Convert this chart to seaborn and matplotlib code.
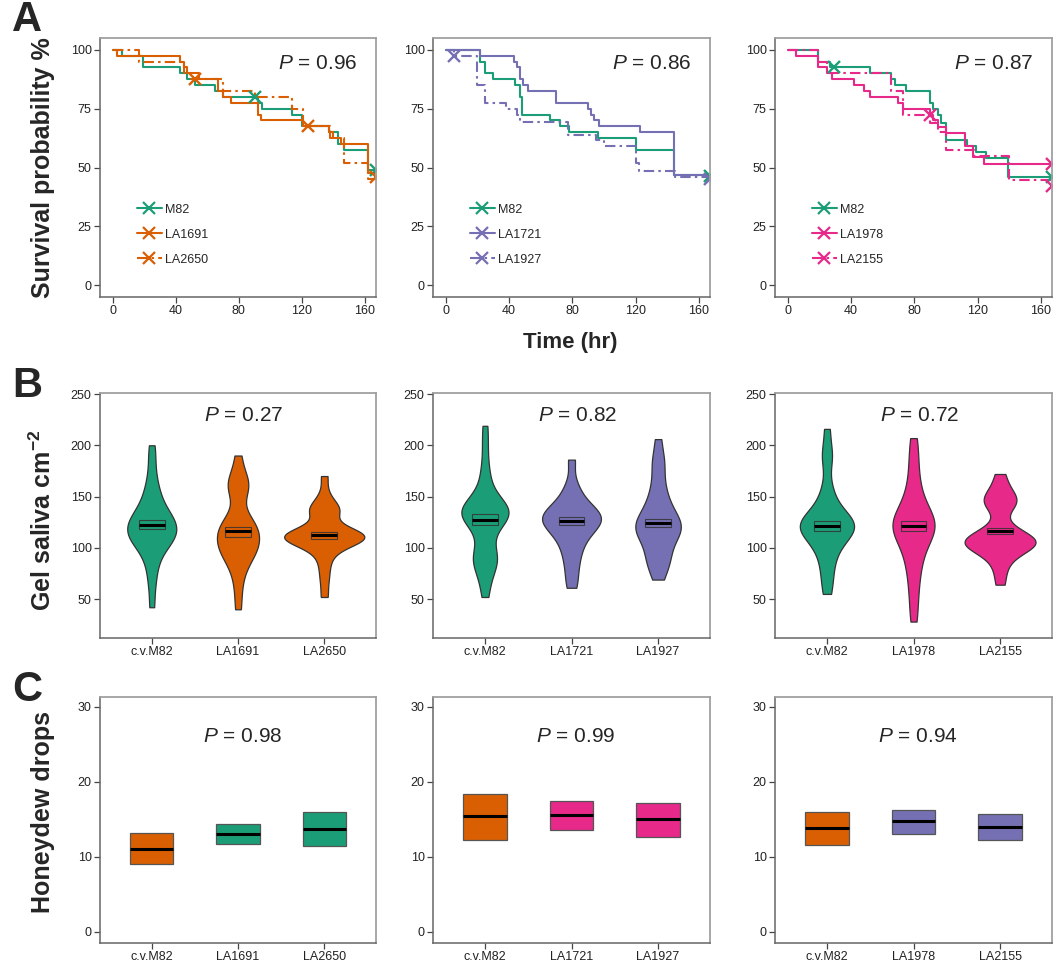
import numpy as np
import pandas as pd
import matplotlib
matplotlib.use("Agg")
import matplotlib.pyplot as plt
from matplotlib.lines import Line2D
import seaborn as sns

sns.set_style("white")
plt.rcParams["font.family"] = ["Liberation Sans", "DejaVu Sans"]
plt.rcParams["mathtext.fontset"] = "custom"
plt.rcParams["mathtext.rm"] = "Liberation Sans"
plt.rcParams["mathtext.it"] = "Liberation Sans:italic"
plt.rcParams["mathtext.bf"] = "Liberation Sans:bold"

GREEN, ORANGE, PURPLE, PINK = "#1b9e77", "#d95f02", "#7570b3", "#e7298a"

# ---- A: survival curves (time hr, survival %) ----
a1_m82_t = [0, 6, 19, 43, 47, 52, 65, 70, 92, 95, 114, 120, 137, 143, 147, 162, 167]
a1_m82_s = [100, 97.5, 92.5, 90, 87.5, 85, 82.5, 80, 77.5, 75, 72.5, 67.5, 65, 60, 57.5, 49, 49]
a1_la1691_t = [0, 3, 43, 45, 47, 55, 67, 70, 75, 92, 94, 121, 137, 140, 145, 162, 167]
a1_la1691_s = [100, 97.5, 95, 92.5, 90, 87.5, 82.5, 80, 77.5, 72.5, 70, 67.5, 65, 62.5, 60, 47.5, 47.5]
a1_la2650_t = [0, 17, 45, 50, 70, 90, 114, 121, 138, 147, 162, 167]
a1_la2650_s = [100, 95, 90, 87.5, 82.5, 80, 75, 67.5, 62.5, 52, 45, 45]

a2_m82_t = [0, 22, 25, 30, 44, 47, 48, 66, 72, 78, 96, 120, 144, 167]
a2_m82_s = [100, 95, 90, 87.5, 85, 80, 72.5, 70, 67.5, 65, 62.5, 57.5, 47, 47]
a2_la1721_t = [0, 22, 43, 45, 47, 49, 52, 70, 90, 92, 94, 97, 123, 144, 167]
a2_la1721_s = [100, 97.5, 95, 92.5, 87.5, 85, 82.5, 77.5, 75, 72.5, 70, 67.5, 65, 47, 47]
a2_la1927_t = [0, 5, 20, 25, 38, 45, 47, 77, 95, 100, 120, 122, 145, 167]
a2_la1927_s = [100, 97.5, 85, 77.5, 75, 72.5, 69.5, 64, 61.5, 59, 52, 48.5, 46, 46]

a3_m82_t = [0, 19, 27, 52, 65, 68, 75, 90, 92, 95, 97, 100, 113, 119, 125, 139, 167]
a3_m82_s = [100, 95, 92.5, 90, 87.5, 85, 82.5, 77.5, 75, 72.5, 69, 61.5, 59, 56.5, 54, 46, 46]
a3_la1978_t = [0, 5, 19, 25, 28, 42, 48, 52, 70, 73, 90, 92, 95, 100, 112, 117, 124, 167]
a3_la1978_s = [100, 97.5, 92.5, 90, 87.5, 85, 82.5, 80, 77.5, 75, 72.5, 70, 67, 64.5, 59, 54.5, 51.5, 51.5]
a3_la2155_t = [0, 19, 25, 65, 73, 90, 95, 100, 118, 140, 167]
a3_la2155_s = [100, 95, 90, 82.5, 72.5, 69, 65, 57.5, 54.8, 44.8, 44.8]

# censor marks
a1_cens = [(52, 87.5, ORANGE), (90, 80, GREEN), (124, 67.5, ORANGE), (167, 49, GREEN), (167, 46, ORANGE)]
a2_cens = [(5, 97.5, PURPLE), (167, 46.5, GREEN), (167, 45, PURPLE)]
a3_cens = [(29, 92.5, GREEN), (90, 72.5, PINK), (167, 51.3, PINK), (167, 46, GREEN), (167, 42, PINK)]

a_pvals = ["0.96", "0.86", "0.87"]

# ---- B: gel saliva per cm2 ----
b1_groups = ["c.v.M82", "LA1691", "LA2650"]
b1_m82 = [42, 62, 75, 85, 92, 98, 102, 105, 107, 109, 111, 113, 115, 117, 119, 121, 123,
          125, 127, 129, 131, 134, 138, 142, 147, 153, 160, 170, 185, 200]
b1_la1691 = [40, 60, 75, 85, 90, 94, 97, 100, 103, 106, 109, 112, 115, 118, 121, 124, 127,
             131, 155, 158, 161, 164, 172, 190]
b1_la2650 = [52, 68, 80, 90, 97, 102, 105, 107, 108, 109, 110, 110, 111, 111, 112, 113, 114,
             115, 117, 120, 133, 135, 137, 139, 142, 152, 170]
b2_groups = ["c.v.M82", "LA1721", "LA1927"]
b2_m82 = [52, 65, 75, 82, 86, 89, 91, 94, 98, 110, 118, 123, 126, 128, 130, 132, 134, 135,
          136, 137, 138, 140, 142, 145, 150, 158, 168, 180, 200, 219]
b2_la1721 = [61, 74, 86, 95, 103, 109, 114, 118, 121, 124, 126, 128, 130, 132, 134, 137, 140,
             145, 152, 162, 186]
b2_la1927 = [69, 78, 86, 89, 92, 100, 106, 110, 113, 116, 118, 120, 122, 124, 127, 130, 134,
             138, 144, 150, 158, 168, 183, 186, 206]
b3_groups = ["c.v.M82", "LA1978", "LA2155"]
b3_m82 = [55, 68, 80, 90, 98, 104, 109, 113, 116, 118, 120, 121, 122, 123, 125, 127, 130,
          134, 140, 150, 160, 188, 191, 216]
b3_la1978 = [28, 45, 60, 72, 82, 90, 97, 103, 108, 112, 115, 118, 120, 122, 124, 126, 129,
             132, 136, 141, 147, 155, 165, 178, 192, 207]
b3_la2155 = [64, 78, 88, 95, 99, 101, 103, 104, 105, 106, 107, 108, 110, 112, 116, 122, 140,
             143, 145, 148, 152, 160, 172]

b1_mean, b1_lo, b1_hi = [122, 116, 112], [118, 111, 109], [127, 120, 115]
b2_mean, b2_lo, b2_hi = [127, 126, 124], [122, 122, 120], [133, 130, 128]
b3_mean, b3_lo, b3_hi = [121, 121, 116], [116, 116, 113], [126, 126, 119]
b_pvals = ["0.27", "0.82", "0.72"]

# ---- C: honeydew drops ----
c1_mean, c1_lo, c1_hi = [11.1, 13.1, 13.7], [9.0, 11.7, 11.4], [13.2, 14.4, 16.0]
c2_mean, c2_lo, c2_hi = [15.4, 15.6, 15.0], [12.3, 13.6, 12.7], [18.4, 17.4, 17.2]
c3_mean, c3_lo, c3_hi = [13.8, 14.8, 14.0], [11.6, 13.05, 12.2], [16.0, 16.3, 15.7]
c_pvals = ["0.98", "0.99", "0.94"]

W, H = 1054, 964
fig = plt.figure(figsize=(W / 100, H / 100), dpi=100)
cols = [(100, 376), (433, 710), (775, 1052)]
rows = [(38, 297), (393, 638), (697, 943)]


def add_ax(col, row):
    x0, x1 = cols[col]
    y0, y1 = rows[row]
    return fig.add_axes([x0 / W, 1 - y1 / H, (x1 - x0) / W, (y1 - y0) / H])


def style(ax):
    for side in ["top", "right"]:
        ax.spines[side].set_color("#a0a0a0")
        ax.spines[side].set_linewidth(1.3)
        ax.spines[side].set_visible(True)
    for side in ["left", "bottom"]:
        ax.spines[side].set_color("#666666")
        ax.spines[side].set_linewidth(1.1)
        ax.spines[side].set_visible(True)
    ax.tick_params(bottom=True, left=True, top=False, right=False, direction="out",
                   length=4, width=0.9, color="#444444",
                   labelsize=9, labelcolor="#222222", pad=2)
    ax.set_xlabel("")
    ax.set_ylabel("")
    ax.grid(False)


dash = (0, (5, 2, 1.2, 2))
a_series = [
    [(a1_m82_t, a1_m82_s, GREEN, "-", "M82"), (a1_la1691_t, a1_la1691_s, ORANGE, "-", "LA1691"),
     (a1_la2650_t, a1_la2650_s, ORANGE, dash, "LA2650")],
    [(a2_m82_t, a2_m82_s, GREEN, "-", "M82"), (a2_la1721_t, a2_la1721_s, PURPLE, "-", "LA1721"),
     (a2_la1927_t, a2_la1927_s, PURPLE, dash, "LA1927")],
    [(a3_m82_t, a3_m82_s, GREEN, "-", "M82"), (a3_la1978_t, a3_la1978_s, PINK, "-", "LA1978"),
     (a3_la2155_t, a3_la2155_s, PINK, dash, "LA2155")],
]
a_cens = [a1_cens, a2_cens, a3_cens]

for i in range(3):
    ax = add_ax(i, 0)
    handles = []
    for t, s, c, ls, lab in a_series[i]:
        sns.lineplot(x=t, y=s, drawstyle="steps-post", color=c, linewidth=1.5,
                     linestyle=ls, estimator=None, sort=False, ax=ax)
        handles.append(Line2D([0], [0], color=c, lw=1.5, ls=ls, marker="x",
                              markersize=8, mew=1.6, label=lab))
    for x, y, c in a_cens[i]:
        ax.plot([x], [y], marker="x", color=c, markersize=9, mew=1.7, ls="none")
    ax.set_xlim(-8, 167)
    ax.set_ylim(-5, 105)
    ax.set_xticks([0, 40, 80, 120, 160])
    ax.set_yticks([0, 25, 50, 75, 100])
    style(ax)
    ax.text(130, 94, "$P$ = " + a_pvals[i], fontsize=15, ha="center", va="center")
    ax.legend(handles=handles, loc="upper left", bbox_to_anchor=(0.11, 0.385),
              frameon=False, fontsize=9, handlelength=2.0, handletextpad=0.3,
              labelspacing=1.05, borderpad=0, numpoints=1)

b_groups = [b1_groups, b2_groups, b3_groups]
b_data = [[b1_m82, b1_la1691, b1_la2650], [b2_m82, b2_la1721, b2_la1927],
          [b3_m82, b3_la1978, b3_la2155]]
b_stats = [(b1_mean, b1_lo, b1_hi), (b2_mean, b2_lo, b2_hi), (b3_mean, b3_lo, b3_hi)]
b_colors = [[GREEN, ORANGE, ORANGE], [GREEN, PURPLE, PURPLE], [GREEN, PINK, PINK]]
b_widths = [0.93, 0.68, 0.82]

for i in range(3):
    ax = add_ax(i, 1)
    df = pd.DataFrame({
        "group": np.repeat(b_groups[i], [len(v) for v in b_data[i]]),
        "value": np.concatenate(b_data[i]),
    })
    # common_norm -> equal-area violins, like ggplot's default scale
    sns.violinplot(data=df, x="group", y="value", hue="group", order=b_groups[i],
                   hue_order=b_groups[i], palette=b_colors[i], cut=0, inner=None,
                   linewidth=0.9, linecolor="#333333", saturation=1,
                   density_norm="area", common_norm=True, width=b_widths[i],
                   bw_adjust=0.65, legend=False, ax=ax)
    mean, lo, hi = b_stats[i]
    ax.bar(range(3), np.subtract(hi, lo), bottom=lo, width=0.3, color=b_colors[i],
           edgecolor="#333333", linewidth=0.8, alpha=0.85, zorder=3)
    ax.hlines(mean, np.arange(3) - 0.15, np.arange(3) + 0.15, color="black", lw=2.2, zorder=4)
    ax.set_xlim(-0.6, 2.6)
    ax.set_ylim(12, 251)
    ax.set_yticks([50, 100, 150, 200, 250])
    style(ax)
    ax.text(1.07, 229, "$P$ = " + b_pvals[i], fontsize=15, ha="center", va="center")

c_groups = b_groups
c_stats = [(c1_mean, c1_lo, c1_hi), (c2_mean, c2_lo, c2_hi), (c3_mean, c3_lo, c3_hi)]
c_colors = [[ORANGE, GREEN, GREEN], [ORANGE, PINK, PINK], [ORANGE, PURPLE, PURPLE]]

for i in range(3):
    ax = add_ax(i, 2)
    mean, lo, hi = c_stats[i]
    ax.bar(c_groups[i], np.subtract(hi, lo), bottom=lo, width=0.5, color=c_colors[i],
           edgecolor="#555555", linewidth=0.9)
    ax.hlines(mean, np.arange(3) - 0.25, np.arange(3) + 0.25, color="black", lw=2.2, zorder=4)
    ax.set_xlim(-0.6, 2.6)
    ax.set_ylim(-1.5, 31.3)
    ax.set_yticks([0, 10, 20, 30])
    style(ax)
    ax.text(1.05, 26.0, "$P$ = " + c_pvals[i], fontsize=15, ha="center", va="center")

# panel letters and shared labels
for letter, y in [("A", 20), ("B", 386), ("C", 690)]:
    fig.text(27 / W, 1 - y / H, letter, fontsize=30, weight="bold", ha="center", va="center")
fig.text(43 / W, 1 - 168 / H, "Survival probability %", rotation=90, fontsize=18,
         weight="bold", ha="center", va="center")
fig.text(570 / W, 1 - 342 / H, "Time (hr)", fontsize=16, weight="bold", ha="center", va="center")
fig.text(43 / W, 1 - 520 / H, r"Gel saliva cm$^{\mathbf{-2}}$", rotation=90, fontsize=18,
         weight="bold", ha="center", va="center")
fig.text(43 / W, 1 - 812 / H, "Honeydew drops", rotation=90, fontsize=18,
         weight="bold", ha="center", va="center")

fig.savefig("out.png", dpi=100)
